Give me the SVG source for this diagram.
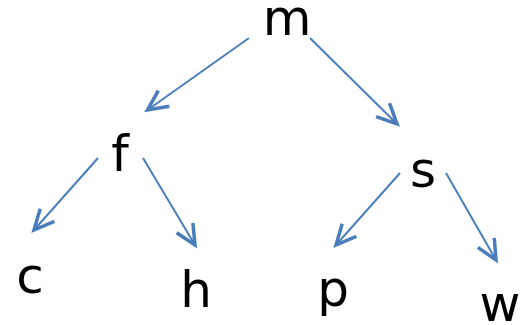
<svg xmlns="http://www.w3.org/2000/svg" width="524" height="325" viewBox="0 0 524 325">
<style>
.lbl{font-family:"DejaVu Sans",sans-serif;font-size:50px;fill:#000;text-anchor:middle}
.edge{stroke:#4a7ebb;stroke-width:2;fill:none;marker-end:url(#ah)}
</style>
<defs>
<marker id="ah" markerUnits="userSpaceOnUse" markerWidth="40" markerHeight="40" viewBox="-30 -20 40 40" refX="0" refY="0" orient="auto">
<path d="M-20,-9.5 L0,0 L-20,9.5" fill="none" stroke="#4a7ebb" stroke-width="3.5" stroke-linejoin="miter"/>
</marker>
</defs>
<rect width="524" height="325" fill="#fff"/>
<g id="connectors">
<line class="edge" x1="249" y1="38" x2="147.5" y2="110"/>
<line class="edge" x1="310" y1="38" x2="397" y2="124"/>
<line class="edge" x1="98" y1="158" x2="34" y2="230"/>
<line class="edge" x1="143" y1="158" x2="195" y2="245"/>
<line class="edge" x1="400" y1="173" x2="336" y2="245"/>
<line class="edge" x1="446" y1="173" x2="496" y2="260"/>
</g>
<g id="node-m"><text class="lbl" x="287" y="35">m</text></g>
<g id="node-f"><text class="lbl" x="120" y="171">f</text></g>
<g id="node-s"><text class="lbl" x="423" y="187">s</text></g>
<g id="node-c"><text class="lbl" x="30" y="293">c</text></g>
<g id="node-h"><text class="lbl" x="196" y="307">h</text></g>
<g id="node-p"><text class="lbl" x="333" y="306">p</text></g>
<g id="node-w"><text class="lbl" x="500" y="321">w</text></g>
</svg>
